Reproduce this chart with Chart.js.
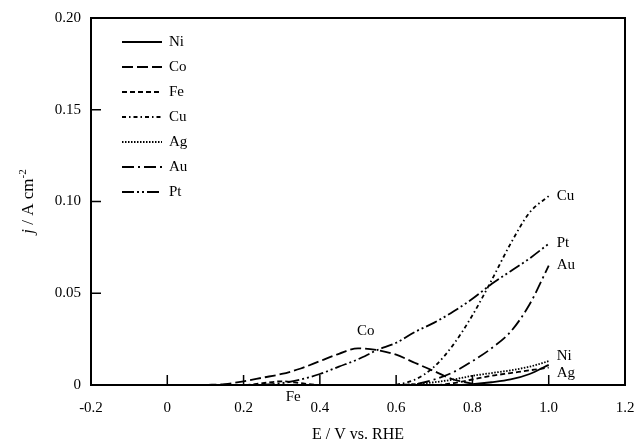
<!DOCTYPE html>
<html>
<head>
<meta charset="utf-8">
<script src="https://cdn.jsdelivr.net/npm/chart.js@4"></script>
<style>
  body { margin: 0; background: #fff; }
  #wrap { width: 637px; height: 446px; }
</style>
</head>
<body>
<div id="wrap"><canvas id="chart"></canvas></div>
<script>
// potential grid (V vs. RHE)
const potential = [0.1, 0.15, 0.2, 0.25, 0.3, 0.35, 0.4, 0.45, 0.5, 0.55, 0.6, 0.65, 0.7, 0.75, 0.8, 0.85, 0.9, 0.95, 1.0];

// current density, A cm-2
const ni = [null, null, null, null, null, null, null, null, null, null, null, null, 0, 0, 0.0005, 0.0015, 0.003, 0.006, 0.011];
const co = [0, 0.0005, 0.002, 0.004, 0.006, 0.009, 0.013, 0.017, 0.02, 0.019, 0.0165, 0.012, 0.0075, 0.003, 0.0008, null, null, null, null];
const fe = [0, 0, 0, 0.001, 0.002, 0.001, 0, 0, 0, 0, 0, 0, 0, 0.001, 0.003, 0.005, 0.0065, 0.008, 0.0095];
const cu = [null, null, null, null, null, null, null, null, null, null, 0, 0.003, 0.01, 0.022, 0.038, 0.057, 0.077, 0.094, 0.103];
const ag = [null, null, null, null, null, null, null, null, null, null, 0, 0.0005, 0.0015, 0.003, 0.005, 0.0065, 0.008, 0.01, 0.013];
const au = [null, null, null, null, null, null, null, null, null, null, 0, 0.0005, 0.003, 0.007, 0.013, 0.02, 0.029, 0.044, 0.065];
const pt = [null, null, null, 0, 0.001, 0.003, 0.006, 0.01, 0.014, 0.019, 0.023, 0.029, 0.034, 0.04, 0.047, 0.055, 0.062, 0.069, 0.077];

const names = ["Ni", "Co", "Fe", "Cu", "Ag", "Au", "Pt"];
const series = [ni, co, fe, cu, ag, au, pt];
const dashes = [[], [11, 4], [5, 3], [4, 3, 1.5, 3], [1.5, 1.5], [12, 4, 2, 4], [12, 3, 2, 3, 2, 3]];

const xTickLabels = ["-0.2", "0", "0.2", "0.4", "0.6", "0.8", "1.0", "1.2"];
const yTickLabels = ["0", "0.05", "0.10", "0.15", "0.20"];

const FONT = "'Liberation Serif', 'Times New Roman', serif";

// where each curve name is written: [E, j, alignment]
const curveLabels = [
  ["Cu", 1.0, 0.103, "left"],
  ["Pt", 1.0, 0.0775, "left"],
  ["Au", 1.0, 0.0655, "left"],
  ["Ni", 1.0, 0.0155, "left"],
  ["Ag", 1.0, 0.0065, "left"],
  ["Co", 0.52, 0.0295, "center"],
  ["Fe", 0.33, -0.0065, "center"],
];

const datasets = names.map((n, i) => ({
  label: n,
  data: potential.map((e, k) => ({ x: e, y: series[i][k] })),
  borderColor: "#000",
  borderWidth: 1.8,
  borderDash: dashes[i],
  pointRadius: 0,
  fill: false,
  cubicInterpolationMode: "monotone",
  spanGaps: false,
}));

const decorations = {
  id: "decorations",
  afterDraw(chart) {
    const { ctx, chartArea: a, scales } = chart;
    const xs = scales.x, ys = scales.y;
    ctx.save();
    ctx.strokeStyle = "#000";
    ctx.lineWidth = 2;
    ctx.setLineDash([]);
    ctx.strokeRect(a.left, a.top, a.right - a.left, a.bottom - a.top);

    // inward ticks
    ctx.lineWidth = 1.5;
    ctx.beginPath();
    xs.ticks.forEach((t) => {
      if (t.value <= xs.min + 1e-9 || t.value >= xs.max - 1e-9) return;
      const px = xs.getPixelForValue(t.value);
      ctx.moveTo(px, a.bottom);
      ctx.lineTo(px, a.bottom - 10);
    });
    ys.ticks.forEach((t) => {
      if (t.value <= ys.min + 1e-9 || t.value >= ys.max - 1e-9) return;
      const py = ys.getPixelForValue(t.value);
      ctx.moveTo(a.left, py);
      ctx.lineTo(a.left + 10, py);
    });
    ctx.stroke();

    // legend
    ctx.font = "15px " + FONT;
    ctx.fillStyle = "#000";
    ctx.textBaseline = "middle";
    ctx.textAlign = "left";
    chart.data.datasets.forEach((d, i) => {
      const y = a.top + 24 + i * 25;
      ctx.lineWidth = 1.8;
      ctx.setLineDash(d.borderDash);
      ctx.beginPath();
      ctx.moveTo(a.left + 31, y);
      ctx.lineTo(a.left + 71, y);
      ctx.stroke();
      ctx.fillText(d.label, a.left + 78, y);
    });
    ctx.setLineDash([]);

    // curve names
    ctx.font = "15px " + FONT;
    curveLabels.forEach(([txt, e, j, al]) => {
      ctx.textAlign = al;
      ctx.fillText(txt, xs.getPixelForValue(e) + (al === "left" ? 8 : 0), ys.getPixelForValue(j));
    });

    // axis titles
    ctx.font = "16px " + FONT;
    ctx.textAlign = "center";
    ctx.textBaseline = "alphabetic";
    ctx.fillText("E / V vs. RHE", (a.left + a.right) / 2, 439);

    ctx.translate(33, (a.top + a.bottom) / 2);
    ctx.rotate(-Math.PI / 2);
    const parts = [
      ["italic 17px " + FONT, "j", 0],
      ["17px " + FONT, " / A cm", 0],
      ["11px " + FONT, "-2", -7],
    ];
    let w = 0;
    parts.forEach(([f, s]) => { ctx.font = f; w += ctx.measureText(s).width; });
    let cx = -w / 2;
    ctx.textAlign = "left";
    parts.forEach(([f, s, dy]) => {
      ctx.font = f;
      ctx.fillText(s, cx, dy);
      cx += ctx.measureText(s).width;
    });
    ctx.restore();
  },
};

new Chart(document.getElementById("chart"), {
  type: "line",
  data: { datasets },
  options: {
    responsive: true,
    maintainAspectRatio: false,
    animation: false,
    layout: { padding: { top: 18, right: 12, left: 0, bottom: 0 } },
    plugins: { legend: { display: false }, tooltip: { enabled: false } },
    scales: {
      x: {
        type: "linear",
        min: -0.2,
        max: 1.2,
        border: { display: false },
        grid: { display: false, drawTicks: false },
        ticks: {
          stepSize: 0.2,
          padding: 14,
          color: "#000",
          font: { family: FONT, size: 15 },
          maxRotation: 0,
          callback: (v, i) => xTickLabels[i],
        },
        afterFit: (s) => { s.height = 61; s.paddingLeft = 0; s.paddingRight = 0; },
      },
      y: {
        min: 0,
        max: 0.2,
        border: { display: false },
        grid: { display: false, drawTicks: false },
        ticks: {
          stepSize: 0.05,
          padding: 10,
          color: "#000",
          font: { family: FONT, size: 15 },
          callback: (v, i) => yTickLabels[i],
        },
        afterFit: (s) => { s.width = 91; s.paddingTop = 0; s.paddingBottom = 0; },
      },
    },
  },
  plugins: [decorations],
});
</script>
</body>
</html>
